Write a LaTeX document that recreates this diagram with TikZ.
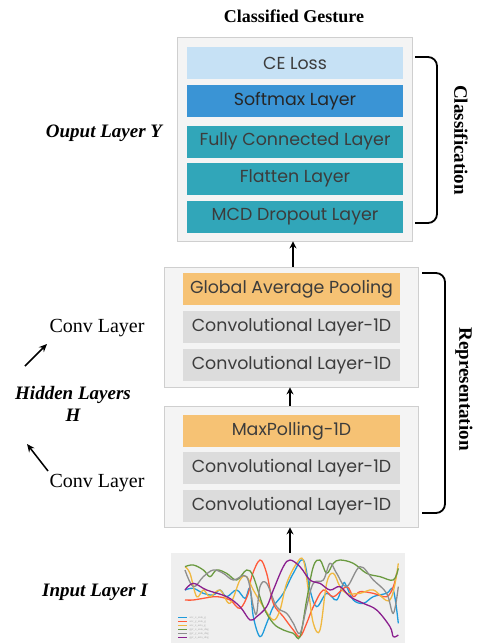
\documentclass[tikz,border=0pt]{standalone}
\usepackage{fontspec}
\setmainfont{Liberation Serif}
\newfontfamily\boxfont{Poppins}
\usetikzlibrary{arrows.meta}
\definecolor{outerfill}{HTML}{F4F4F4}
\definecolor{outerdraw}{HTML}{CFCFCF}
\definecolor{celoss}{HTML}{C6E1F5}
\definecolor{softmax}{HTML}{3A94D5}
\definecolor{tealc}{HTML}{31A6B9}
\definecolor{orangec}{HTML}{F6C274}
\definecolor{grayc}{HTML}{DCDCDC}
\definecolor{txt}{HTML}{3C3C3C}
\definecolor{imgbg}{HTML}{EFEFEF}
\definecolor{pblue}{HTML}{1F9BDB}
\definecolor{pred}{HTML}{FF5A3A}
\definecolor{pyellow}{HTML}{F0B840}
\definecolor{pgreen}{HTML}{6A9A40}
\definecolor{pgray}{HTML}{8E8E8E}
\definecolor{ppurple}{HTML}{8A1F8E}
\tikzset{
  outerbox/.style={draw=outerdraw, fill=outerfill, line width=0.8pt, inner sep=0pt},
  layerbox/.style={draw=none, inner sep=0pt, minimum height=32pt, font=\boxfont\fontsize{17.4}{20}\selectfont, text=txt},
  arr/.style={-{Stealth[length=7pt,width=7pt]}, line width=1.6pt},
  thinarr/.style={-{Stealth[length=8pt,width=7pt]}, line width=1.5pt},
  bracket/.style={line width=1.8pt, rounded corners=9pt},
  sidelabel/.style={font=\bfseries\fontsize{19}{22}\selectfont, rotate=-90},
  leftlabel/.style={font=\bfseries\itshape\fontsize{19}{22}\selectfont},
  convlabel/.style={font=\fontsize{20}{22}\selectfont},
  sig/.style={line width=1.3pt, smooth, tension=0.6},
}
\begin{document}
\begin{tikzpicture}[x=1pt,y=-1pt]
\useasboundingbox (0,0) rectangle (482,643);

% Title
\node[font=\bfseries\fontsize{18}{20}\selectfont] (title) at (294,16) {Classified Gesture};

% Classification block
\node[outerbox, minimum width=235pt, minimum height=204pt] (cls) at (294.5,139) {};
\node[layerbox, fill=celoss, minimum width=216pt] (ce) at (295,63) {CE Loss};
\node[layerbox, fill=softmax, minimum width=216pt, text=black!85] (sm) at (295,101) {Softmax Layer};
\node[layerbox, fill=tealc, minimum width=216pt] (fc) at (295,141.5) {Fully Connected Layer};
\node[layerbox, fill=tealc, minimum width=216pt] (fl) at (295,178.5) {Flatten Layer};
\node[layerbox, fill=tealc, minimum width=216pt] (mcd) at (295,216.5) {MCD Dropout Layer};

% Representation block 1
\node[outerbox, minimum width=254pt, minimum height=120pt] (rep1) at (291,327) {};
\node[layerbox, fill=orangec, minimum width=217pt] (gap) at (291.5,289) {Global Average Pooling};
\node[layerbox, fill=grayc, minimum width=217pt] (c1) at (291.5,327) {Convolutional Layer-1D};
\node[layerbox, fill=grayc, minimum width=217pt] (c2) at (291.5,365) {Convolutional Layer-1D};

% Representation block 2
\node[outerbox, minimum width=254pt, minimum height=121pt] (rep2) at (291,466.5) {};
\node[layerbox, fill=orangec, minimum width=217pt] (mp) at (291.5,431) {MaxPolling-1D};
\node[layerbox, fill=grayc, minimum width=217pt] (c3) at (291.5,468) {Convolutional Layer-1D};
\node[layerbox, fill=grayc, minimum width=217pt] (c4) at (291.5,506) {Convolutional Layer-1D};

% Input image
\node[draw=none, fill=imgbg, minimum width=234pt, minimum height=90pt, inner sep=0pt] (img) at (288,598) {};
\begin{scope}[shift={(160,540)}, x=0.3333pt, y=-0.3333pt]
\draw[sig, pblue] plot coordinates {(75,150) (100,145) (130,160) (160,165) (180,150) (200,170) (230,150) (255,175) (270,145) (280,230) (300,290) (320,250) (340,200) (370,160) (400,100) (430,60) (450,150) (470,200) (500,160) (530,180) (550,130) (560,140) (580,180) (610,190) (640,170) (680,160) (700,150) (715,250)};
\draw[sig, pred] plot coordinates {(75,180) (100,180) (130,175) (170,170) (210,180) (240,205) (265,160) (275,110) (300,60) (320,100) (340,190) (370,230) (400,270) (420,290) (440,250) (460,200) (490,150) (520,170) (560,140) (580,170) (600,155) (640,160) (680,170) (700,140) (710,100)};
\draw[sig, pyellow] plot coordinates {(75,80) (90,100) (110,170) (130,150) (150,170) (180,150) (210,190) (240,120) (260,110) (280,150) (310,200) (340,240) (360,210) (380,130) (410,70) (430,60) (445,150) (460,250) (480,270) (500,130) (520,100) (540,140) (560,160) (600,160) (640,150) (690,180) (715,70)};
\draw[sig, pgreen] plot coordinates {(75,80) (100,75) (130,90) (150,110) (170,90) (200,100) (230,120) (260,90) (280,110) (310,200) (340,250) (370,270) (400,280) (420,290) (440,180) (460,80) (480,60) (500,100) (520,70) (540,60) (580,70) (620,100) (660,110) (700,120) (715,85)};
\draw[sig, pgray] plot coordinates {(75,90) (100,140) (130,110) (160,90) (190,100) (220,120) (260,110) (280,200) (290,220) (300,140) (320,130) (350,200) (380,220) (400,250) (420,280) (440,200) (460,130) (490,120) (510,70) (530,100) (560,140) (600,80) (640,120) (680,160) (700,220) (715,140)};
\draw[sig, ppurple] plot coordinates {(75,150) (100,130) (140,150) (200,170) (240,200) (270,240) (290,230) (320,200) (340,150) (370,80) (390,60) (420,80) (450,120) (480,130) (510,150) (540,140) (570,170) (610,190) (650,210) (690,260) (700,290) (715,285)};
% legend
\foreach \c/\t [count=\i] in {pblue/acc\_x\_axis\_g, pred/acc\_y\_axis\_g, pyellow/acc\_z\_axis\_g, pgreen/gyr\_x\_axis\_deg/s, pgray/gyr\_y\_axis\_deg/s, ppurple/gyr\_z\_axis\_deg/s}{
  \draw[\c, line width=1pt] (55,{222+\i*12}) -- (80,{222+\i*12});
  \node[anchor=west, inner sep=0pt, font=\fontsize{3}{3}\selectfont, text=gray!70] at (88,{222+\i*12}) {\t};
}
\end{scope}

% Arrows between blocks
\draw[arr] (rep1.north -| 293,0) -- (cls.south -| 293,0);
\draw[arr] (rep2.north -| 290,0) -- (rep1.south -| 290,0);
\draw[arr] (img.north -| 290,0) -- (rep2.south -| 290,0);

% Brackets
\draw[bracket] (415,57) -- (437,57) -- (437,223) -- (415,223);
\draw[bracket] (422,273) -- (445,273) -- (445,513) -- (422,513);
\node[sidelabel] (clslab) at (461,140) {Classification};
\node[sidelabel] (replab) at (464,389) {Representation};

% Left labels
\node[leftlabel] (outl) at (104,133) {Ouput Layer Y};
\node[convlabel] (conv1) at (97,328) {Conv Layer};
\node[leftlabel, align=center] (hid) at (73,404) {Hidden Layers\\H};
\node[convlabel] (conv2) at (97,483) {Conv Layer};
\node[leftlabel] (inl) at (95,592) {Input Layer I};
\coordinate (a1t) at (25,366);
\coordinate (a1h) at (47,344);
\coordinate (a2t) at (48,471);
\coordinate (a2h) at (27,444);
\draw[thinarr] (a1t) -- (a1h);
\draw[thinarr] (a2t) -- (a2h);
\end{tikzpicture}
\end{document}
